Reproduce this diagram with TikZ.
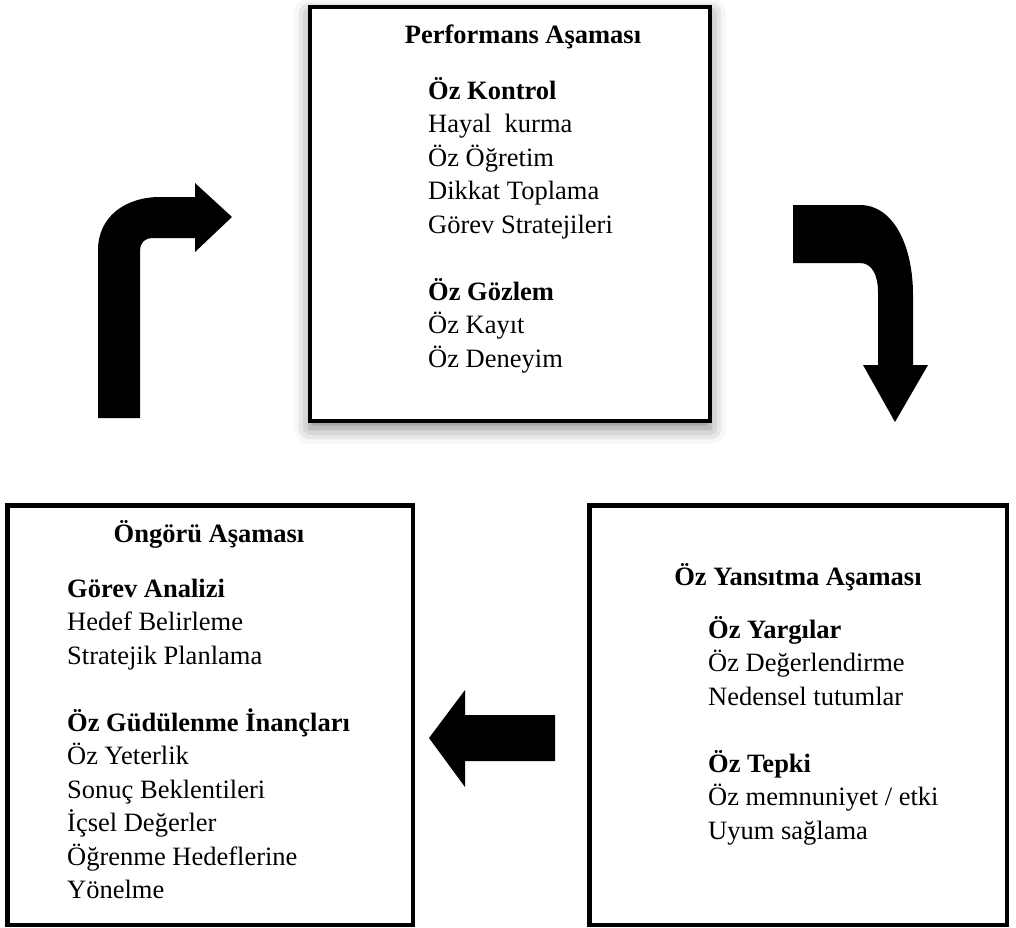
\documentclass[tikz,border=0pt]{standalone}
\usepackage{fontspec}
\setmainfont{Liberation Serif}
\usetikzlibrary{shadows.blur}

\tikzset{
  phasebox/.style={draw=black, line width=4.5pt, fill=white},
  heading/.style={anchor=base, inner sep=0pt, font=\fontsize{26.5}{33.5}\selectfont\bfseries},
  itemlist/.style={anchor=base west, inner sep=0pt, font=\fontsize{26.5}{33.5}\selectfont},
  bigarrow/.style={fill=black, draw=none}
}
\newcommand{\itemcol}[1]{\begin{tabular}[t]{@{}l@{}}#1\end{tabular}}

\begin{document}
\begin{tikzpicture}[x=1pt, y=-1pt]
  \useasboundingbox (0,0) rectangle (1016,927);

  % Performance phase (top, with soft shadow)
  \draw[phasebox, blur shadow={shadow xshift=0pt, shadow yshift=-7pt,
        shadow blur radius=16pt, shadow opacity=50}]
    (310,7) rectangle (710,421);
  \node[heading] (perfTitle) at (523,43) {Performans Aşaması};
  \node[itemlist] (perfList) at (428,99) {\itemcol{%
    \textbf{Öz Kontrol}\\
    Hayal\ \ kurma\\
    Öz Öğretim\\
    Dikkat Toplama\\
    Görev Stratejileri\\
    \\
    \textbf{Öz Gözlem}\\
    Öz Kayıt\\
    Öz Deneyim}};

  % Forethought phase (bottom left)
  \draw[phasebox] (7.25,505.25) rectangle (412.75,924.75);
  \node[heading] (foreTitle) at (209,542) {Öngörü Aşaması};
  \node[itemlist] (foreList) at (67,597) {\itemcol{%
    \textbf{Görev Analizi}\\
    Hedef Belirleme\\
    Stratejik Planlama\\
    \\
    \textbf{Öz Güdülenme İnançları}\\
    Öz Yeterlik\\
    Sonuç Beklentileri\\
    İçsel Değerler\\
    Öğrenme Hedeflerine\\
    Yönelme}};

  % Self-reflection phase (bottom right)
  \draw[phasebox] (589.25,505.25) rectangle (1006.75,924.75);
  \node[heading] (reflTitle) at (798,585) {Öz Yansıtma Aşaması};
  \node[itemlist] (reflList) at (708,638) {\itemcol{%
    \textbf{Öz Yargılar}\\
    Öz Değerlendirme\\
    Nedensel tutumlar\\
    \\
    \textbf{Öz Tepki}\\
    Öz memnuniyet / etki\\
    Uyum sağlama}};

  % Cycle arrows
  % up-and-right arrow: forethought -> performance
  \fill[bigarrow] (98,418) -- (98,250)
      .. controls (98,217) and (125,197) .. (160,197)
      -- (195,197) -- (195,183) -- (232,217) -- (195,252) -- (195,238)
      -- (152,238) .. controls (145,238) and (140,243) .. (140,250)
      -- (140,418) -- cycle;
  % right-and-down arrow: performance -> self-reflection
  \fill[bigarrow] (793,205) -- (860,205)
      .. controls (893,205) and (913,245) .. (913,295)
      -- (913,365) -- (928,365) -- (895,422) -- (863,365) -- (878,365)
      -- (878,292) .. controls (878,275) and (872,263) .. (860,263)
      -- (793,263) -- cycle;
  % left arrow: self-reflection -> forethought
  \fill[bigarrow] (555,715) -- (465,715) -- (465,690) -- (429,738)
      -- (465,787) -- (465,761) -- (555,761) -- cycle;
\end{tikzpicture}
\end{document}
